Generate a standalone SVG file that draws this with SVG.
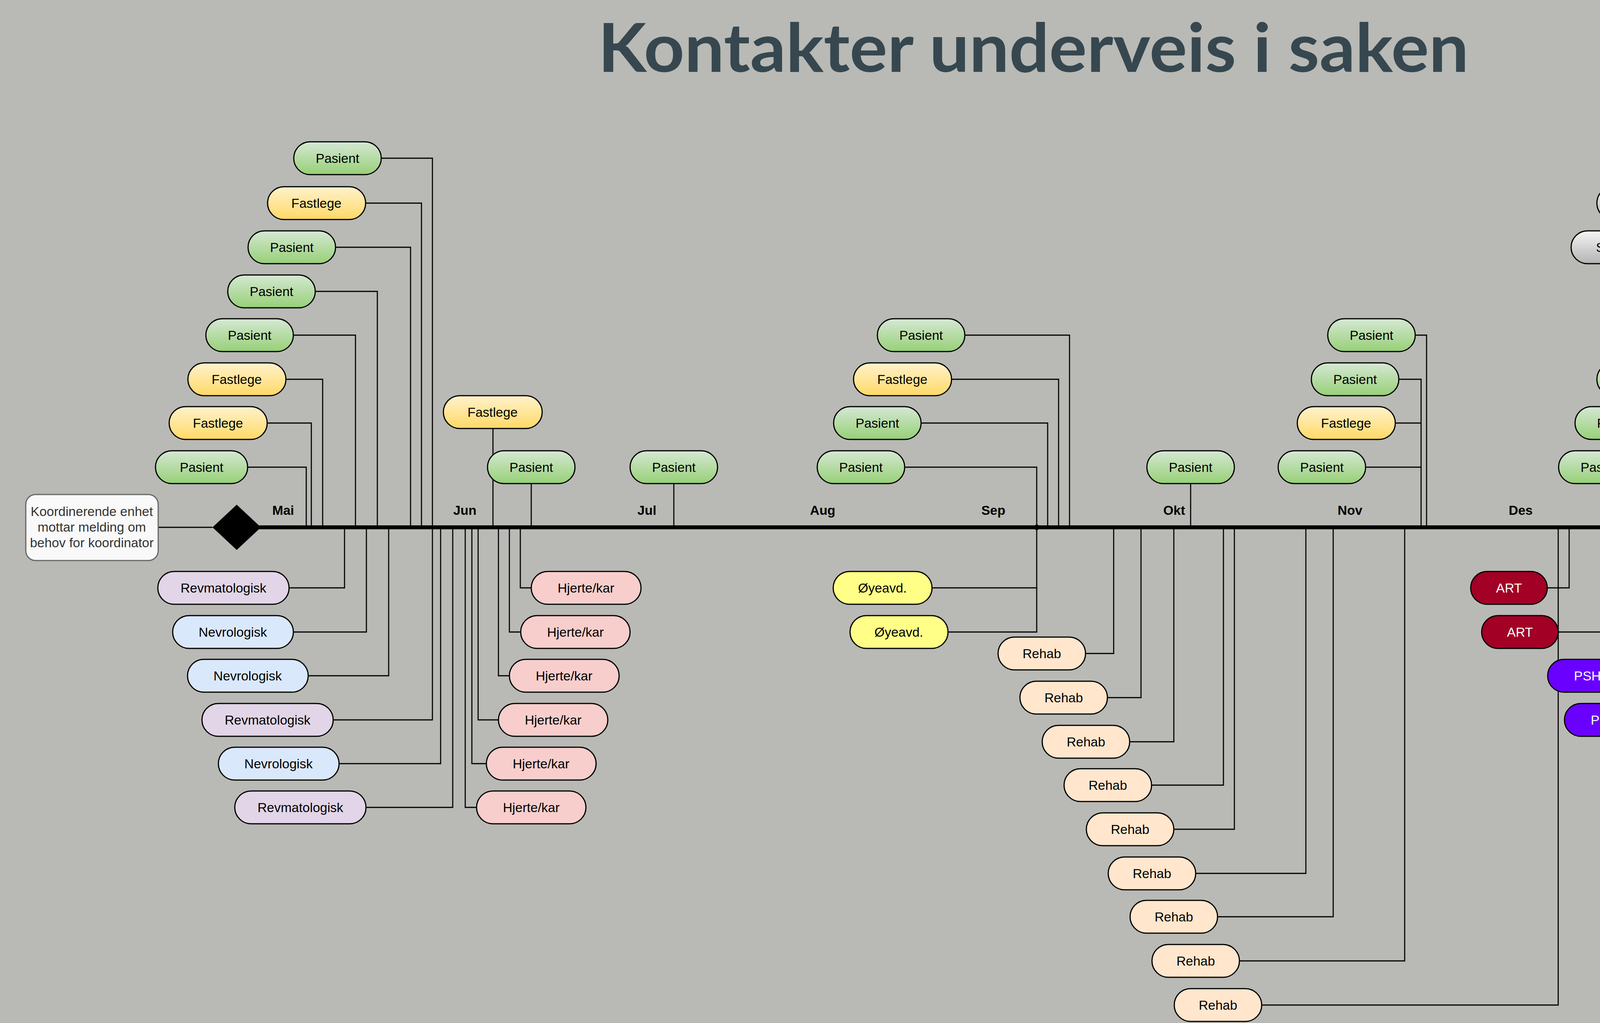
<svg xmlns="http://www.w3.org/2000/svg" width="6244" height="2619" viewBox="0 0 6244 2619">
<defs>
<linearGradient id="gG" x1="0" y1="0" x2="0" y2="1"><stop offset="0" stop-color="#d5e8d4"/><stop offset="1" stop-color="#97d077"/></linearGradient>
<linearGradient id="gY" x1="0" y1="0" x2="0" y2="1"><stop offset="0" stop-color="#fff2cc"/><stop offset="1" stop-color="#ffd966"/></linearGradient>
<linearGradient id="gS" x1="0" y1="0" x2="0" y2="1"><stop offset="0" stop-color="#f5f5f5"/><stop offset="1" stop-color="#b3b3b3"/></linearGradient>
<style>
.n rect{stroke:#000;stroke-width:3}
.pas rect{fill:url(#gG)}
.fas rect{fill:url(#gY)}
.sam rect{fill:url(#gS)}
.rev rect{fill:#e1d5e7}
.nev rect{fill:#dae8fc}
.hk rect{fill:#f8cecc}
.oye rect{fill:#ffff88}
.reh rect{fill:#ffe6cc}
.art rect{fill:#a20025}
.psh rect{fill:#6a00ff}
.end rect{fill:#1ba1e2}
.utr rect{fill:#647687}
.n text{font-family:"Liberation Sans",Arial,sans-serif;font-size:33.5px;text-anchor:middle;fill:#000}
.art text,.psh text,.end text,.utr text{fill:#fff}
.mo{font-family:"Liberation Sans",Arial,sans-serif;font-size:33.5px;font-weight:bold;text-anchor:middle;fill:#000}
.c path{fill:none;stroke:#000;stroke-width:2.8}
</style>
</defs>
<rect x="0" y="0" width="6244" height="2619" fill="#b9bab5"/>
<text x="1531" y="184" font-family="Lato,'Open Sans',sans-serif" font-weight="bold" font-size="172" fill="#36474f" textLength="2229" lengthAdjust="spacingAndGlyphs">Kontakter underveis i saken</text>

<g id="connectors" class="c">
<path d="M976 405H1107V1350"/>
<path d="M936 520H1079V1350"/>
<path d="M859 633H1051V1350"/>
<path d="M807 746H966V1350"/>
<path d="M751 858H910V1350"/>
<path d="M732 971H826V1350"/>
<path d="M684 1083H797V1350"/>
<path d="M634 1196H784V1350"/>
<path d="M1262 1097V1350"/>
<path d="M1360 1238V1350"/>
<path d="M1725 1238V1350"/>
<path d="M2470 858H2738V1350"/>
<path d="M2436 971H2710V1350"/>
<path d="M2358 1083H2682V1350"/>
<path d="M2316 1196H2654V1350"/>
<path d="M3048 1238V1350"/>
<path d="M3623 858H3652V1350"/>
<path d="M3581 971H3638V1350"/>
<path d="M3572 1083H3638"/>
<path d="M3496 1196H3638"/>
<path d="M4214 1196H4243V1350"/>
<path d="M4256 1083H4397"/>
<path d="M4312 971H4397V1350"/>
<path d="M4382 858H4426V1350"/>
<path d="M4438 746H4482V1350"/>
<path d="M4415 633H4523V1350"/>
<path d="M4481 520H4566V1350"/>
<path d="M4551 405H4637V1350"/>
<path d="M4548 295H4706V1350"/>
<path d="M4946 191H5016V1350"/>
<path d="M5016 70H5409V1350"/>
<path d="M740 1505H882V1350"/>
<path d="M751 1618H938V1350"/>
<path d="M789 1730H995V1350"/>
<path d="M853 1843H1107V1350"/>
<path d="M868 1955H1128V1350"/>
<path d="M937 2067H1159V1350"/>
<path d="M1332 1350V1505H1360"/>
<path d="M1304 1350V1618H1333"/>
<path d="M1276 1350V1730H1304"/>
<path d="M1224 1350V1843H1276"/>
<path d="M1208 1350V1955H1245"/>
<path d="M1191 1350V2067H1220"/>
<path d="M2386 1505H2654V1350"/>
<path d="M2427 1618H2654V1505"/>
<path d="M2779 1673H2851V1350"/>
<path d="M2835 1786H2921V1350"/>
<path d="M2892 1899H3005V1350"/>
<path d="M2948 2010H3132V1350"/>
<path d="M3005 2123H3160V1350"/>
<path d="M3061 2236H3343V1350"/>
<path d="M3117 2347H3413V1350"/>
<path d="M3173 2460H3596V1350"/>
<path d="M3230 2573H3989V1350"/>
<path d="M3961 1505H4017V1350"/>
<path d="M3989 1618H4214V1350"/>
<path d="M4186 1730H4214V1618"/>
<path d="M4229 1843H4243V1350"/>
<path d="M4426 1350V1730H4482"/>
<path d="M4397 1350V1843H4426"/>
<path d="M4566 1350V1505H4605"/>
<path d="M4482 1350V1618H4539"/>
<path d="M5311 1505H5409V1350"/>
<path d="M405 1350H544"/>
<path d="M650 1350H6212" style="stroke-width:10"/>
<polygon points="6244,1350 6205,1324 6215,1350 6205,1376" fill="#000"/>
<circle cx="2654" cy="1350" r="7" fill="#000"/>
</g>

<g id="start">
<rect x="66" y="1266" width="339" height="169" rx="25" fill="#f9f9f9" stroke="#666" stroke-width="3"/>
<text font-family="'Liberation Sans',Arial,sans-serif" font-size="33.5" fill="#333" text-anchor="middle"><tspan x="235" y="1321">Koordinerende enhet</tspan><tspan x="235" y="1361">mottar melding om</tspan><tspan x="235" y="1401">behov for koordinator</tspan></text>
</g>
<g id="diamond"><polygon points="544,1350 606,1292 668,1350 606,1408" fill="#000"/></g>

<g id="months">
<text class="mo" x="725" y="1318">Mai</text>
<text class="mo" x="1190" y="1318">Jun</text>
<text class="mo" x="1656" y="1318">Jul</text>
<text class="mo" x="2106" y="1318">Aug</text>
<text class="mo" x="2543" y="1318">Sep</text>
<text class="mo" x="3006" y="1318">Okt</text>
<text class="mo" x="3456" y="1318">Nov</text>
<text class="mo" x="3893" y="1318">Des</text>
<text class="mo" x="4342" y="1318">Jan</text>
<text class="mo" x="4792" y="1318">Feb</text>
<text class="mo" x="5243" y="1318">Mar</text>
<text class="mo" x="5693" y="1318">Apr</text>
<text class="mo" x="6142" y="1318">Mai</text>
</g>

<g id="a1" class="n pas"><rect x="752" y="363" width="224" height="84" rx="42"/><text x="864" y="417">Pasient</text></g>
<g id="a2" class="n fas"><rect x="685" y="478" width="251" height="84" rx="42"/><text x="810" y="532">Fastlege</text></g>
<g id="a3" class="n pas"><rect x="635" y="591" width="224" height="84" rx="42"/><text x="747" y="645">Pasient</text></g>
<g id="a4" class="n pas"><rect x="583" y="704" width="224" height="84" rx="42"/><text x="695" y="758">Pasient</text></g>
<g id="a5" class="n pas"><rect x="527" y="816" width="224" height="84" rx="42"/><text x="639" y="870">Pasient</text></g>
<g id="a6" class="n fas"><rect x="481" y="929" width="251" height="84" rx="42"/><text x="606" y="983">Fastlege</text></g>
<g id="a7" class="n fas"><rect x="433" y="1041" width="251" height="84" rx="42"/><text x="558" y="1095">Fastlege</text></g>
<g id="a8" class="n pas"><rect x="398" y="1154" width="236" height="84" rx="42"/><text x="516" y="1208">Pasient</text></g>
<g id="a9" class="n fas"><rect x="1135" y="1013" width="253" height="84" rx="42"/><text x="1261" y="1067">Fastlege</text></g>
<g id="a10" class="n pas"><rect x="1248" y="1154" width="224" height="84" rx="42"/><text x="1360" y="1208">Pasient</text></g>
<g id="a11" class="n pas"><rect x="1613" y="1154" width="224" height="84" rx="42"/><text x="1725" y="1208">Pasient</text></g>
<g id="a12" class="n pas"><rect x="2246" y="816" width="224" height="84" rx="42"/><text x="2358" y="870">Pasient</text></g>
<g id="a13" class="n fas"><rect x="2185" y="929" width="251" height="84" rx="42"/><text x="2310" y="983">Fastlege</text></g>
<g id="a14" class="n pas"><rect x="2134" y="1041" width="224" height="84" rx="42"/><text x="2246" y="1095">Pasient</text></g>
<g id="a15" class="n pas"><rect x="2092" y="1154" width="224" height="84" rx="42"/><text x="2204" y="1208">Pasient</text></g>
<g id="a16" class="n pas"><rect x="2936" y="1154" width="224" height="84" rx="42"/><text x="3048" y="1208">Pasient</text></g>
<g id="a17" class="n pas"><rect x="3399" y="816" width="224" height="84" rx="42"/><text x="3511" y="870">Pasient</text></g>
<g id="a18" class="n pas"><rect x="3357" y="929" width="224" height="84" rx="42"/><text x="3469" y="983">Pasient</text></g>
<g id="a19" class="n fas"><rect x="3321" y="1041" width="251" height="84" rx="42"/><text x="3446" y="1095">Fastlege</text></g>
<g id="a20" class="n pas"><rect x="3272" y="1154" width="224" height="84" rx="42"/><text x="3384" y="1208">Pasient</text></g>
<g id="a21" class="n pas"><rect x="3990" y="1154" width="224" height="84" rx="42"/><text x="4102" y="1208">Pasient</text></g>
<g id="a22" class="n pas"><rect x="4032" y="1041" width="224" height="84" rx="42"/><text x="4144" y="1095">Pasient</text></g>
<g id="a23" class="n pas"><rect x="4088" y="929" width="224" height="84" rx="42"/><text x="4200" y="983">Pasient</text></g>
<g id="a24" class="n pas"><rect x="4158" y="816" width="224" height="84" rx="42"/><text x="4270" y="870">Pasient</text></g>
<g id="a25" class="n pas"><rect x="4214" y="704" width="224" height="84" rx="42"/><text x="4326" y="758">Pasient</text></g>
<g id="a26" class="n sam"><rect x="4022" y="591" width="393" height="84" rx="42"/><text x="4218" y="645">Samhandlingssjef</text></g>
<g id="a27" class="n sam"><rect x="4088" y="478" width="393" height="84" rx="42"/><text x="4284" y="532">Samhandlingssjef</text></g>
<g id="a28" class="n sam"><rect x="4158" y="363" width="393" height="84" rx="42"/><text x="4354" y="417">Samhandlingssjef</text></g>
<g id="a29" class="n sam"><rect x="4238" y="253" width="310" height="84" rx="42"/><text x="4393" y="307">Klinikkledere</text></g>
<g id="a30" class="n sam"><rect x="4551" y="149" width="395" height="84" rx="42"/><text x="4748" y="203">Medisinsk fagsjef</text></g>
<g id="a31" class="n sam"><rect x="4621" y="28" width="395" height="84" rx="42"/><text x="4818" y="82">Medisinsk fagsjef</text></g>

<g id="b1" class="n rev"><rect x="404" y="1463" width="336" height="84" rx="42"/><text x="572" y="1517">Revmatologisk</text></g>
<g id="b2" class="n nev"><rect x="442" y="1576" width="309" height="84" rx="42"/><text x="596" y="1630">Nevrologisk</text></g>
<g id="b3" class="n nev"><rect x="480" y="1688" width="309" height="84" rx="42"/><text x="634" y="1742">Nevrologisk</text></g>
<g id="b4" class="n rev"><rect x="517" y="1801" width="336" height="84" rx="42"/><text x="685" y="1855">Revmatologisk</text></g>
<g id="b5" class="n nev"><rect x="559" y="1913" width="309" height="84" rx="42"/><text x="713" y="1967">Nevrologisk</text></g>
<g id="b6" class="n rev"><rect x="601" y="2025" width="336" height="84" rx="42"/><text x="769" y="2079">Revmatologisk</text></g>
<g id="h1" class="n hk"><rect x="1360" y="1463" width="281" height="84" rx="42"/><text x="1500" y="1517">Hjerte/kar</text></g>
<g id="h2" class="n hk"><rect x="1333" y="1576" width="280" height="84" rx="42"/><text x="1473" y="1630">Hjerte/kar</text></g>
<g id="h3" class="n hk"><rect x="1304" y="1688" width="281" height="84" rx="42"/><text x="1444" y="1742">Hjerte/kar</text></g>
<g id="h4" class="n hk"><rect x="1276" y="1801" width="280" height="84" rx="42"/><text x="1416" y="1855">Hjerte/kar</text></g>
<g id="h5" class="n hk"><rect x="1245" y="1913" width="281" height="84" rx="42"/><text x="1385" y="1967">Hjerte/kar</text></g>
<g id="h6" class="n hk"><rect x="1220" y="2025" width="280" height="84" rx="42"/><text x="1360" y="2079">Hjerte/kar</text></g>
<g id="o1" class="n oye"><rect x="2133" y="1463" width="253" height="84" rx="42"/><text x="2259" y="1517">Øyeavd.</text></g>
<g id="o2" class="n oye"><rect x="2176" y="1576" width="251" height="84" rx="42"/><text x="2301" y="1630">Øyeavd.</text></g>
<g id="r1" class="n reh"><rect x="2555" y="1631" width="224" height="84" rx="42"/><text x="2667" y="1685">Rehab</text></g>
<g id="r2" class="n reh"><rect x="2611" y="1744" width="224" height="84" rx="42"/><text x="2723" y="1798">Rehab</text></g>
<g id="r3" class="n reh"><rect x="2668" y="1857" width="224" height="84" rx="42"/><text x="2780" y="1911">Rehab</text></g>
<g id="r4" class="n reh"><rect x="2724" y="1968" width="224" height="84" rx="42"/><text x="2836" y="2022">Rehab</text></g>
<g id="r5" class="n reh"><rect x="2781" y="2081" width="224" height="84" rx="42"/><text x="2893" y="2135">Rehab</text></g>
<g id="r6" class="n reh"><rect x="2837" y="2194" width="224" height="84" rx="42"/><text x="2949" y="2248">Rehab</text></g>
<g id="r7" class="n reh"><rect x="2893" y="2305" width="224" height="84" rx="42"/><text x="3005" y="2359">Rehab</text></g>
<g id="r8" class="n reh"><rect x="2949" y="2418" width="224" height="84" rx="42"/><text x="3061" y="2472">Rehab</text></g>
<g id="r9" class="n reh"><rect x="3006" y="2531" width="224" height="84" rx="42"/><text x="3118" y="2585">Rehab</text></g>
<g id="t1" class="n art"><rect x="3765" y="1463" width="196" height="84" rx="42"/><text x="3863" y="1517">ART</text></g>
<g id="t2" class="n art"><rect x="3793" y="1576" width="196" height="84" rx="42"/><text x="3891" y="1630">ART</text></g>
<g id="p1" class="n psh"><rect x="3962" y="1688" width="224" height="84" rx="42"/><text x="4074" y="1742">PSHT</text></g>
<g id="p2" class="n psh"><rect x="4005" y="1801" width="224" height="84" rx="42"/><text x="4117" y="1855">PSHT</text></g>
<g id="e1" class="n end"><rect x="4482" y="1688" width="252" height="84" rx="42"/><text x="4608" y="1742">Endokrin</text></g>
<g id="e2" class="n end"><rect x="4426" y="1801" width="252" height="84" rx="42"/><text x="4552" y="1855">Endokrin</text></g>
<g id="u1" class="n utr"><rect x="4605" y="1463" width="421" height="84" rx="42"/><text x="4815" y="1517">Utredningspoliklinikk</text></g>
<g id="u2" class="n utr"><rect x="4539" y="1576" width="421" height="84" rx="42"/><text x="4749" y="1630">Utredningspoliklinikk</text></g>
<g id="r10" class="n reh"><rect x="5087" y="1463" width="224" height="84" rx="42"/><text x="5199" y="1517">Rehab</text></g>
</svg>
